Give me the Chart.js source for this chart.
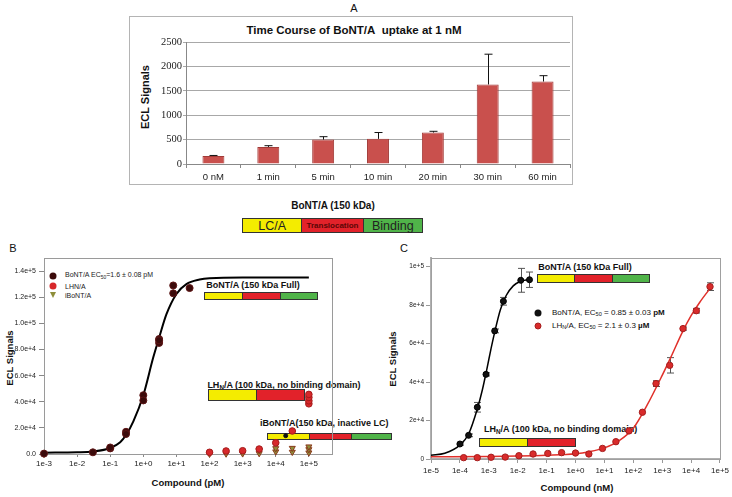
<!DOCTYPE html>
<html>
<head>
<meta charset="utf-8">
<script src="https://cdn.jsdelivr.net/npm/chart.js@4.4.1/dist/chart.umd.min.js"></script>
<style>
  html, body { margin: 0; padding: 0; background: #fff; }
  body { width: 732px; height: 497px; position: relative; overflow: hidden;
         font-family: "Liberation Sans", Arial, Helvetica, sans-serif; color: #111; }
  .lbl { position: absolute; white-space: nowrap; transform: translate(-50%, -50%); line-height: 1; }
  .lft { transform: translate(0, -50%); }
  .rot { transform: translate(-50%, -50%) rotate(-90deg); }
  .b { font-weight: bold; }
  .sub { font-size: 0.7em; vertical-align: -0.25em; }
  .domain { position: absolute; display: flex; border: 1px solid #333; box-sizing: border-box; }
  .domain div { height: 100%; box-sizing: border-box; display: flex; align-items: center; justify-content: center; }
  .lc { background: #f4ec00; }
  .tr { background: #e2222a; border-left: 1px solid #333; }
  .bd { background: #50b449; border-left: 1px solid #333; }
  .mk { position: absolute; width: 7px; height: 7px; border-radius: 50%; transform: translate(-50%, -50%); box-sizing: border-box; }
  .tri { position: absolute; width: 0; height: 0; border-left: 3.5px solid transparent; border-right: 3.5px solid transparent;
         border-top: 6px solid #8e8e3a; transform: translate(-50%, -50%); }
  canvas { position: absolute; z-index: 1; }
</style>
</head>
<body>

<!-- Panel A -->
<div class="lbl" style="left:354px;top:8px;font-size:11px">A</div>
<div style="position:absolute;left:129px;top:16px;width:444px;height:169px;border:1px solid #b4b4b4;box-sizing:border-box"></div>
<div class="lbl b" style="left:354px;top:31px;font-size:11.5px">Time Course of BoNT/A&nbsp; uptake at 1 nM</div>
<div class="lbl b rot" style="left:145px;top:97px;font-size:11px">ECL Signals</div>
<canvas id="chartA" width="444" height="169" style="left:129px;top:16px;width:444px;height:169px"></canvas>

<!-- BoNT/A domain map -->
<div class="lbl b" style="left:333px;top:206px;font-size:10px">BoNT/A (150 kDa)</div>
<div class="domain" style="left:242px;top:218px;width:181px;height:15px">
  <div class="lc" style="width:59px;font-size:12.5px;color:#222">LC/A</div>
  <div class="tr" style="width:62px;font-size:8px;font-weight:bold;color:#5c0606">Translocation</div>
  <div class="bd" style="width:60px;font-size:12.5px;color:#222">Binding</div>
</div>

<!-- Panel B -->
<div class="lbl" style="left:13px;top:248px;font-size:11px">B</div>
<div class="lbl b rot" style="left:10px;top:358px;font-size:9.5px">ECL Signals</div>
<div class="lbl b" style="left:188px;top:483px;font-size:9.5px">Compound (pM)</div>
<span class="mk" style="left:53px;top:276px;background:#3b0b0b"></span>
<div class="lbl lft" style="left:65px;top:276px;font-size:7px;color:#222">BoNT/A EC<span class="sub">50</span>=1.6 ± 0.08 pM</div>
<span class="mk" style="left:53px;top:286px;background:#d7282b"></span>
<div class="lbl lft" style="left:65px;top:286px;font-size:7px;color:#222">LHN/A</div>
<span class="tri" style="left:53px;top:295px;border-top-color:#8e8e3a"></span>
<div class="lbl lft" style="left:65px;top:295px;font-size:7px;color:#222">iBoNT/A</div>

<div class="lbl b" style="left:253px;top:285px;font-size:9px">BoNT/A (150 kDa Full)</div>
<div class="domain" style="left:204px;top:292px;width:114px;height:8px">
  <div class="lc" style="width:38px"></div><div class="tr" style="width:38px"></div><div class="bd" style="width:38px"></div>
</div>
<div class="lbl b" style="left:284px;top:386px;font-size:9px">LH<span class="sub">N</span>/A (100 kDa, no binding domain)</div>
<div class="domain" style="left:208px;top:389px;width:97px;height:12px">
  <div class="lc" style="width:48px"></div><div class="tr" style="width:49px"></div>
</div>
<div class="lbl b lft" style="left:260px;top:423px;font-size:9px">iBoNT/A(150 kDa, inactive LC)</div>
<div class="domain" style="left:267px;top:433px;width:125px;height:7px">
  <div class="lc" style="width:42px"></div><div class="tr" style="width:42px"></div><div class="bd" style="width:41px"></div>
</div>
<canvas id="chartB" width="340" height="247" style="left:0;top:250px;width:340px;height:247px"></canvas>

<!-- Panel C -->
<div class="lbl" style="left:404px;top:248px;font-size:11px">C</div>
<div class="lbl b rot" style="left:393px;top:359px;font-size:9.5px">ECL Signals</div>
<div class="lbl b" style="left:577px;top:488px;font-size:9.5px">Compound (nM)</div>
<div class="lbl b" style="left:585px;top:267px;font-size:9px">BoNT/A (150 kDa Full)</div>
<div class="domain" style="left:537px;top:274px;width:113px;height:9px">
  <div class="lc" style="width:37px"></div><div class="tr" style="width:38px"></div><div class="bd" style="width:38px"></div>
</div>
<span class="mk" style="left:538px;top:313px;background:#111"></span>
<div class="lbl lft" style="left:552px;top:313px;font-size:8px">BoNT/A, EC<span class="sub">50</span> = 0.85 ± 0.03 <b>pM</b></div>
<span class="mk" style="left:538px;top:326px;background:#d92b2b;border:1px solid #a51e1e"></span>
<div class="lbl lft" style="left:552px;top:326px;font-size:8px">LH<span class="sub">N</span>/A, EC<span class="sub">50</span> = 2.1 ± 0.3 <b>µM</b></div>
<div class="lbl b lft" style="left:484px;top:430px;font-size:9px">LH<span class="sub">N</span>/A (100 kDa, no binding domain)</div>
<div class="domain" style="left:479px;top:438px;width:97px;height:9px">
  <div class="lc" style="width:48px"></div><div class="tr" style="width:49px"></div>
</div>
<canvas id="chartC" width="352" height="247" style="left:380px;top:250px;width:352px;height:247px"></canvas>

<script>
// Panel A - time course of uptake at 1 nM
const timeLabels = ['0 nM', '1 min', '5 min', '10 min', '20 min', '30 min', '60 min'];
const uptakeMean = [165, 350, 500, 515, 645, 1630, 1690];
const uptakeErr = [10, 25, 60, 130, 25, 620, 120];
const uptakeTicks = [0, 500, 1000, 1500, 2000, 2500];

// Panel B - dose response (pM)
const bXTicks = [1e-3, 1e-2, 1e-1, 1, 1e1, 1e2, 1e3, 1e4, 1e5];
const bXTickLabels = ['1e-3', '1e-2', '1e-1', '1e+0', '1e+1', '1e+2', '1e+3', '1e+4', '1e+5'];
const bYTicks = [0, 20000, 40000, 60000, 80000, 100000, 120000, 140000];
const bYTickLabels = ['0.0', '2.0e+4', '4.0e+4', '6.0e+4', '8.0e+4', '1.0e+5', '1.2e+5', '1.4e+5'];
const bBontPoints = [[0.001, 300], [0.03, 1300], [0.1, 4300], [0.1, 5000], [0.3, 17000], [0.3, 15300],
  [1, 45000], [1, 41000], [3, 88000], [3, 85000], [3, 87000], [8, 129000], [8, 123000], [25, 127000]];
const bStrayPoints = [[20000, 14000]];
const bLhnPoints = [[100, 1300], [316, 2300], [1000, 2500], [3160, 3800], [10000, 8600], [31600, 17600],
  [100000, 38400], [100000, 40700], [100000, 43300], [100000, 45600]];
const bIbontPoints = [[0.001, 0], [100, 0], [316, 200], [1000, 300], [3160, 500], [3160, 2800],
  [10000, 1800], [10000, 4300], [31600, 1500], [31600, 4500], [100000, 1000], [100000, 3500], [100000, 5600]];
const bBontFit = [[0.001, 1000], [0.01, 1300], [0.03, 1900], [0.1, 4600], [0.2, 9000], [0.3, 14500],
  [0.5, 25000], [1, 45000], [2, 74000], [3, 89000], [5, 107000], [10, 122500], [20, 130000],
  [50, 133500], [100, 134500], [1000, 135000], [100000, 135000]];

// Panel C - dose response (nM)
const cXTicks = [1e-5, 1e-4, 1e-3, 1e-2, 1e-1, 1, 1e1, 1e2, 1e3, 1e4, 1e5];
const cXTickLabels = ['1e-5', '1e-4', '1e-3', '1e-2', '1e-1', '1e+0', '1e+1', '1e+2', '1e+3', '1e+4', '1e+5'];
const cYTicks = [0, 20000, 40000, 60000, 80000, 100000];
const cYTickLabels = ['0', '2e+4', '4e+4', '6e+4', '8e+4', '1e+5'];
const cBontDose = [1e-4, 2e-4, 4e-4, 8e-4, 1.6e-3, 3.2e-3, 1.28e-2, 2.56e-2];
const cBontSignal = [7800, 12300, 26900, 44000, 66600, 82000, 92900, 93200];
const cBontErr = [600, 700, 2500, 800, 1000, 2000, 6200, 4000];
const cBontFit = [[1e-5, 2000], [3e-5, 3000], [1e-4, 7200], [2e-4, 13000], [4e-4, 26000], [6e-4, 36000],
  [8.5e-4, 46500], [1.2e-3, 57500], [1.6e-3, 66000], [2.5e-3, 77500], [4e-3, 85000], [7e-3, 90000],
  [1.2e-2, 92300], [2.5e-2, 93300]];
const cLhnDose = [1.35e-4, 4e-4, 1.2e-3, 3.7e-3, 1.1e-2, 3.4e-2, 0.11, 0.33, 1.0, 2.9, 8.6, 25, 71, 207,
  612, 1820, 5250, 15200, 45200];
const cLhnSignal = [700, 700, 900, 1000, 1700, 2600, 2900, 3300, 3100, 2600, 5500, 9000, 14600, 24300,
  39200, 48700, 67800, 77100, 89600];
const cLhnErr = [0, 0, 0, 0, 0, 0, 0, 0, 0, 0, 0, 0, 0, 0, 1500, 4000, 800, 1200, 2000];
const cLhnFit = [[1e-5, 1200], [1e-3, 1300], [1e-2, 1500], [1e-1, 1900], [1, 2700], [3, 3800], [10, 5800],
  [30, 9200], [100, 16000], [300, 28000], [1000, 43500], [2000, 53000], [5000, 66000], [1e4, 74500],
  [2e4, 81500], [5e4, 89500]];

Chart.defaults.font.family = '"Liberation Sans", Arial, Helvetica, sans-serif';
Chart.defaults.color = '#222';

const pairs = arr => arr.map(p => ({ x: p[0], y: p[1] }));
const zip = (xs, ys) => xs.map((x, i) => ({ x, y: ys[i] }));
const fixedTicks = values => s => { s.ticks = values.map(v => ({ value: v })); };

// upper error bar on each bar
const barErrorPlugin = {
  id: 'barErrors',
  afterDatasetsDraw(chart) {
    const ds = chart.data.datasets[0];
    const meta = chart.getDatasetMeta(0);
    const y = chart.scales.y;
    const ctx = chart.ctx;
    ctx.save();
    ctx.strokeStyle = '#111';
    ctx.lineWidth = 1;
    meta.data.forEach((bar, i) => {
      const top = y.getPixelForValue(ds.data[i] + ds.errorBars[i]);
      const x = Math.round(bar.x) + 0.5;
      ctx.beginPath();
      ctx.moveTo(x, bar.y);
      ctx.lineTo(x, top);
      ctx.moveTo(x - 4, top);
      ctx.lineTo(x + 4, top);
      ctx.stroke();
    });
    ctx.restore();
  }
};

// symmetric error bars on scatter points
const pointErrorPlugin = {
  id: 'pointErrors',
  beforeDatasetsDraw(chart) {
    const y = chart.scales.y;
    const ctx = chart.ctx;
    ctx.save();
    ctx.strokeStyle = '#555';
    ctx.lineWidth = 1;
    chart.data.datasets.forEach((ds, di) => {
      if (!ds.errorBars) return;
      chart.getDatasetMeta(di).data.forEach((pt, i) => {
        const e = ds.errorBars[i];
        if (!e) return;
        const v = ds.data[i].y;
        const t = y.getPixelForValue(v + e);
        const b = y.getPixelForValue(v - e);
        const x = Math.round(pt.x) + 0.5;
        ctx.beginPath();
        ctx.moveTo(x, t); ctx.lineTo(x, b);
        ctx.moveTo(x - 3.5, t); ctx.lineTo(x + 3.5, t);
        ctx.moveTo(x - 3.5, b); ctx.lineTo(x + 3.5, b);
        ctx.stroke();
      });
    });
    ctx.restore();
  }
};

// thin box around the plot area
const framePlugin = {
  id: 'frame',
  beforeDatasetsDraw(chart, args, opts) {
    const { left, right, top, bottom } = chart.chartArea;
    const ctx = chart.ctx;
    ctx.save();
    ctx.strokeStyle = opts.color || '#999';
    ctx.lineWidth = 1;
    ctx.strokeRect(Math.round(left) + 0.5, Math.round(top) + 0.5, Math.round(right - left), Math.round(bottom - top));
    ctx.restore();
  }
};

// Panel A
new Chart(document.getElementById('chartA'), {
  type: 'bar',
  data: {
    labels: timeLabels,
    datasets: [{
      data: uptakeMean,
      errorBars: uptakeErr,
      backgroundColor: '#c9504d',
      borderColor: '#a23b38',
      borderWidth: 1,
      barPercentage: 0.4,
      categoryPercentage: 1
    }]
  },
  options: {
    responsive: false,
    animation: false,
    layout: { padding: { top: 26, right: 3, left: 0, bottom: 0 } },
    plugins: { legend: { display: false }, tooltip: { enabled: false } },
    scales: {
      x: {
        afterFit: s => { s.height = 21; },
        grid: { drawOnChartArea: false, tickLength: 4, color: '#888' },
        border: { color: '#888' },
        ticks: { font: { size: 9.5 }, color: '#222', padding: 4 }
      },
      y: {
        min: 0, max: 2500,
        afterBuildTicks: fixedTicks(uptakeTicks),
        afterFit: s => { s.width = 57; },
        grid: { color: '#a8a8a8', tickLength: 3 },
        border: { color: '#888' },
        ticks: { callback: v => String(v), font: { family: '"Liberation Serif", "Times New Roman", serif', size: 10.5 }, color: '#222', padding: 1 }
      }
    }
  },
  plugins: [barErrorPlugin]
});

// Panel B
new Chart(document.getElementById('chartB'), {
  type: 'scatter',
  data: {
    datasets: [
      { label: 'BoNT/A', data: pairs(bBontPoints), pointRadius: 3.5, backgroundColor: '#3b0b0b', borderColor: '#5e1515', borderWidth: 1, clip: false, order: 1 },
      { label: 'BoNT/A extra', data: pairs(bStrayPoints), pointRadius: 2, backgroundColor: '#111', borderColor: '#111', clip: false, order: 1 },
      { label: 'LHN/A', data: pairs(bLhnPoints), pointRadius: 3.3, backgroundColor: '#d7282b', borderColor: '#a51b1b', borderWidth: 1, clip: false, order: 2 },
      { label: 'iBoNT/A', data: pairs(bIbontPoints), pointStyle: 'triangle', rotation: 180, pointRadius: 3.5, backgroundColor: '#8e8e3a', borderColor: '#8b3a1c', borderWidth: 1, clip: false, order: 3 },
      { label: 'fit', data: pairs(bBontFit), showLine: true, pointRadius: 0, borderColor: '#000', borderWidth: 2, cubicInterpolationMode: 'monotone', order: 4 }
    ]
  },
  options: {
    responsive: false,
    animation: false,
    layout: { padding: { top: 8, right: 8, left: 0, bottom: 0 } },
    plugins: { legend: { display: false }, tooltip: { enabled: false }, frame: { color: '#9a9a9a' } },
    scales: {
      x: {
        type: 'logarithmic', min: 1e-3, max: 5e5,
        afterBuildTicks: fixedTicks(bXTicks),
        afterFit: s => { s.height = 43; },
        grid: { drawOnChartArea: false, tickLength: 3, color: '#888' },
        border: { color: '#9a9a9a' },
        ticks: { callback: (v, i) => bXTickLabels[i], font: { size: 8 }, color: '#222', padding: 2, maxRotation: 0, autoSkip: false }
      },
      y: {
        min: 0, max: 150000,
        afterBuildTicks: fixedTicks(bYTicks),
        afterFit: s => { s.width = 44; },
        grid: { drawOnChartArea: false, tickLength: 5, color: '#888' },
        border: { color: '#9a9a9a' },
        ticks: { callback: (v, i) => bYTickLabels[i], font: { size: 7 }, color: '#222', padding: 3 }
      }
    }
  },
  plugins: [framePlugin]
});

// Panel C
new Chart(document.getElementById('chartC'), {
  type: 'scatter',
  data: {
    datasets: [
      { label: 'BoNT/A', data: zip(cBontDose, cBontSignal), errorBars: cBontErr, pointRadius: 3, backgroundColor: '#111', borderColor: '#000', borderWidth: 1, clip: false, order: 1 },
      { label: 'LHN/A', data: zip(cLhnDose, cLhnSignal), errorBars: cLhnErr, pointRadius: 3.2, backgroundColor: '#d92b2b', borderColor: '#a51e1e', borderWidth: 1, clip: false, order: 2 },
      { label: 'BoNT/A fit', data: pairs(cBontFit), showLine: true, pointRadius: 0, borderColor: '#000', borderWidth: 1.5, cubicInterpolationMode: 'monotone', order: 3 },
      { label: 'LHN/A fit', data: pairs(cLhnFit), showLine: true, pointRadius: 0, borderColor: '#e0302a', borderWidth: 1.5, cubicInterpolationMode: 'monotone', order: 4 }
    ]
  },
  options: {
    responsive: false,
    animation: false,
    layout: { padding: { top: 8, right: 12, left: 0, bottom: 0 } },
    plugins: { legend: { display: false }, tooltip: { enabled: false }, frame: { color: '#a0a0a0' } },
    scales: {
      x: {
        type: 'logarithmic', min: 1e-5, max: 1e5,
        afterBuildTicks: fixedTicks(cXTicks),
        afterFit: s => { s.height = 38; },
        grid: { drawOnChartArea: false, tickLength: 4, color: '#999' },
        border: { color: '#b0b0b0', width: 2 },
        ticks: { callback: (v, i) => cXTickLabels[i], font: { size: 8 }, color: '#222', padding: 3, maxRotation: 0, autoSkip: false }
      },
      y: {
        min: 0, max: 104500,
        afterBuildTicks: fixedTicks(cYTicks),
        afterFit: s => { s.width = 51; },
        grid: { drawOnChartArea: false, tickLength: 5, color: '#999' },
        border: { color: '#b0b0b0', width: 2 },
        ticks: { callback: (v, i) => cYTickLabels[i], font: { size: 6.5 }, color: '#222', padding: 2 }
      }
    }
  },
  plugins: [framePlugin, pointErrorPlugin]
});
</script>
</body>
</html>
